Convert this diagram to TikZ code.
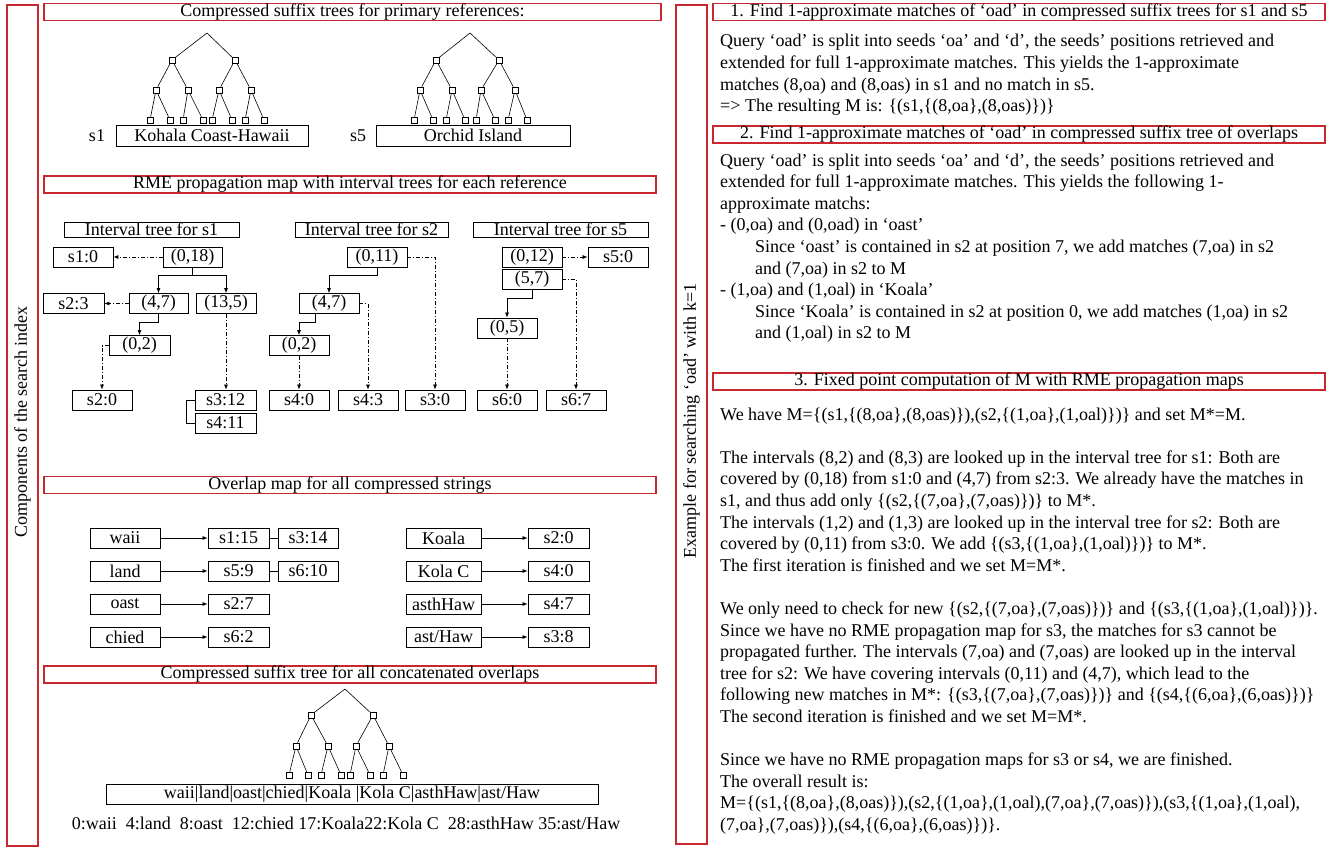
\documentclass[tikz,border=0pt]{standalone}
\usepackage{fontspec}
\setmainfont{Liberation Serif}
\usetikzlibrary{arrows.meta}
\definecolor{hdrred}{RGB}{200,40,45}
\begin{document}
\begin{tikzpicture}[x=1pt,y=-1pt,
  every node/.style={font=\fontsize{18pt}{21.6pt}\selectfont, inner sep=0pt},
  hdr/.style={draw=hdrred, line width=1.2pt},
  bx/.style={draw=black, line width=0.8pt, minimum height=20pt},
  tn/.style={draw=black, line width=0.6pt, minimum width=6pt, minimum height=6pt, fill=white},
  arr/.style={-{Latex[length=5pt,width=4pt]}},
  dd/.style={dash pattern=on 4pt off 2pt on 1pt off 2pt},
  ln/.style={anchor=base west},
  tedge/.style={line width=0.6pt},
  conn/.style={line width=0.7pt}
]
\fill[white] (0,0) rectangle (1337,848);
\useasboundingbox (0,0) rectangle (1337,848);

% ---------- side strips ----------
\draw[hdr] (7,5) rectangle (38,846);
\node[rotate=90] (llab) at (22.5,422) {Components of the search index};
\draw[hdr] (676,5) rectangle (707,844);
\node[rotate=90] (rlab) at (691.5,421) {Example for searching ‘oad’ with k=1};

% ---------- left headers ----------
\node[hdr, minimum width=617pt, minimum height=16pt] (h1) at (352.5,12) {Compressed suffix trees for primary references:};
\node[hdr, minimum width=612pt, minimum height=17pt] (h2) at (350,184.5) {RME propagation map with interval trees for each reference};
\node[hdr, minimum width=612pt, minimum height=16pt] (h3) at (350,485) {Overlap map for all compressed strings};
\node[hdr, minimum width=612pt, minimum height=17pt] (h4) at (350,674.5) {Compressed suffix tree for all concatenated overlaps};

% ---------- suffix tree s1 ----------
\coordinate (t1r) at (207,33);
\node[tn] (t1a) at (172,60) {};
\node[tn] (t1b) at (235,60) {};
\node[tn] (t1aa) at (156,90) {};
\node[tn] (t1ab) at (188,90) {};
\node[tn] (t1ba) at (219,90) {};
\node[tn] (t1bb) at (251,90) {};
\node[tn] (t1aaa) at (150,120) {};
\node[tn] (t1aab) at (170,120) {};
\node[tn] (t1aba) at (183,120) {};
\node[tn] (t1abb) at (203,120) {};
\node[tn] (t1baa) at (212,120) {};
\node[tn] (t1bab) at (232,120) {};
\node[tn] (t1bba) at (245,120) {};
\node[tn] (t1bbb) at (264,120) {};
\foreach \p/\c in {r/a,r/b,a/aa,a/ab,b/ba,b/bb,aa/aaa,aa/aab,ab/aba,ab/abb,ba/baa,ba/bab,bb/bba,bb/bbb}
  \draw[tedge] (t1\p) -- (t1\c);
\node (s1lab) at (97,136) {s1};
\node[bx, minimum width=192pt, minimum height=21pt] (koh) at (212,135.5) {Kohala Coast-Hawaii};

% ---------- suffix tree s5 ----------
\coordinate (t2r) at (470,33);
\node[tn] (t2a) at (436,60) {};
\node[tn] (t2b) at (499,60) {};
\node[tn] (t2aa) at (420,90) {};
\node[tn] (t2ab) at (452,90) {};
\node[tn] (t2ba) at (481,90) {};
\node[tn] (t2bb) at (515,90) {};
\node[tn] (t2aaa) at (414,120) {};
\node[tn] (t2aab) at (433,120) {};
\node[tn] (t2aba) at (446,120) {};
\node[tn] (t2abb) at (465,120) {};
\node[tn] (t2baa) at (476,120) {};
\node[tn] (t2bab) at (495,120) {};
\node[tn] (t2bba) at (508,120) {};
\node[tn] (t2bbb) at (527,120) {};
\foreach \p/\c in {r/a,r/b,a/aa,a/ab,b/ba,b/bb,aa/aaa,aa/aab,ab/aba,ab/abb,ba/baa,ba/bab,bb/bba,bb/bbb}
  \draw[tedge] (t2\p) -- (t2\c);
\node (s5lab) at (358,136) {s5};
\node[bx, minimum width=194pt, minimum height=21pt] (orc) at (473,135.5) {Orchid Island};

% ---------- interval trees ----------
\node[bx, minimum width=175pt, minimum height=15pt] (it1) at (151.5,229.5) {Interval tree for s1};
\node[bx, minimum width=153pt, minimum height=15pt] (it2) at (371.5,229.5) {Interval tree for s2};
\node[bx, minimum width=175pt, minimum height=15pt] (it5) at (560.5,229.5) {Interval tree for s5};

% s1
\node[bx, minimum width=60pt] (a10) at (83,257) {s1:0};
\node[bx, minimum width=59pt] (a018) at (192.5,257) {(0,18)};
\node[bx, minimum width=61pt] (a23) at (73.5,303.5) {s2:3};
\node[bx, minimum width=59pt] (a47) at (158.5,303.5) {(4,7)};
\node[bx, minimum width=60pt] (a135) at (226,303.5) {(13,5)};
\node[bx, minimum width=61pt] (a02) at (139.5,345.5) {(0,2)};
\node[bx, minimum width=60pt] (a20) at (102,400) {s2:0};
\node[bx, minimum width=61pt] (a312) at (225.5,400) {s3:12};
\node[bx, minimum width=61pt] (a411) at (225.5,423) {s4:11};
\draw[conn,dd,arr] (a018.west) -- (a10.east);
\draw[conn,arr] (a018.south) -- ++(0,8) -| (a47.north);
\draw[conn,arr] (a018.south) -- ++(0,8) -| (a135.north);
\draw[conn,dd,arr] (a47.west) -- (a23.east);
\draw[conn,arr] (a47.south) -- ++(0,8) -| (a02.north);
\draw[conn,dd,arr] (a02.west) -| (a20.north);
\draw[conn,dd,arr] (a135.south) -- (a135.south |- a312.north);
\draw[conn] (a312.west) -- ++(-8,0) |- (a411.west);

% s2
\node[bx, minimum width=60pt] (b011) at (377,257) {(0,11)};
\node[bx, minimum width=60pt] (b47) at (329,303.5) {(4,7)};
\node[bx, minimum width=60pt] (b02) at (299,345.5) {(0,2)};
\node[bx, minimum width=60pt] (b40) at (299,400) {s4:0};
\node[bx, minimum width=60pt] (b43) at (368,400) {s4:3};
\node[bx, minimum width=60pt] (b30) at (435,400) {s3:0};
\draw[conn,dd,arr] (b011.east) -| (b30.north);
\draw[conn,arr] (b011.south) -- ++(0,8) -| (b47.north);
\draw[conn,dd,arr] (b47.east) -| (b43.north);
\draw[conn,arr] ([xshift=-14pt]b47.south) -- ++(0,8) -| (b02.north);
\draw[conn,dd,arr] (b02.south) -- (b40.north);

% s5
\node[bx, minimum width=60pt] (c012) at (532,257) {(0,12)};
\node[bx, minimum width=60pt] (c50) at (618,257) {s5:0};
\node[bx, minimum width=60pt] (c57) at (532,279) {(5,7)};
\node[bx, minimum width=60pt] (c05) at (507,328) {(0,5)};
\node[bx, minimum width=60pt] (c60) at (507,400) {s6:0};
\node[bx, minimum width=60pt] (c67) at (576,400) {s6:7};
\draw[conn,dd,arr] (c012.east) -- (c50.west);
\draw[conn,dd,arr] (c57.east) -| (c67.north);
\draw[conn,arr] (c57.south) -- ++(0,9) -| (c05.north);
\draw[conn,dd,arr] (c05.south) -- (c60.north);

% ---------- overlap map ----------
\node[bx, minimum width=70pt] (o1) at (125,538) {waii};
\node[bx, minimum width=61pt] (o1a) at (238.5,538) {s1:15};
\node[bx, minimum width=60pt] (o1b) at (308,538) {s3:14};
\node[bx, minimum width=70pt] (o2) at (125,571) {land};
\node[bx, minimum width=61pt] (o2a) at (238.5,571) {s5:9};
\node[bx, minimum width=60pt] (o2b) at (308,571) {s6:10};
\node[bx, minimum width=70pt] (o3) at (125,604) {oast};
\node[bx, minimum width=61pt] (o3a) at (238.5,604) {s2:7};
\node[bx, minimum width=70pt] (o4) at (125,637) {chied};
\node[bx, minimum width=61pt] (o4a) at (238.5,637) {s6:2};
\node[bx, minimum width=75pt] (p1) at (443.5,538) {Koala};
\node[bx, minimum width=61pt] (p1a) at (558.5,538) {s2:0};
\node[bx, minimum width=75pt] (p2) at (443.5,571) {Kola C};
\node[bx, minimum width=61pt] (p2a) at (558.5,571) {s4:0};
\node[bx, minimum width=75pt] (p3) at (443.5,604) {asthHaw};
\node[bx, minimum width=61pt] (p3a) at (558.5,604) {s4:7};
\node[bx, minimum width=75pt] (p4) at (443.5,637) {ast/Haw};
\node[bx, minimum width=61pt] (p4a) at (558.5,637) {s3:8};
\foreach \k in {o1,o2,o3,o4,p1,p2,p3,p4}
  \draw[conn,arr] (\k.east) -- (\k a.west);
\draw[conn] (o1a.east) -- (o1b.west);
\draw[conn] (o2a.east) -- (o2b.west);

% ---------- suffix tree of overlaps ----------
\coordinate (t3r) at (345,689);
\node[tn] (t3a) at (311,715) {};
\node[tn] (t3b) at (373,715) {};
\node[tn] (t3aa) at (296,746) {};
\node[tn] (t3ab) at (328,746) {};
\node[tn] (t3ba) at (356,746) {};
\node[tn] (t3bb) at (389,746) {};
\node[tn] (t3aaa) at (289,775) {};
\node[tn] (t3aab) at (308,775) {};
\node[tn] (t3aba) at (321,775) {};
\node[tn] (t3abb) at (341,775) {};
\node[tn] (t3baa) at (350,775) {};
\node[tn] (t3bab) at (370,775) {};
\node[tn] (t3bba) at (383,775) {};
\node[tn] (t3bbb) at (403,775) {};
\foreach \p/\c in {r/a,r/b,a/aa,a/ab,b/ba,b/bb,aa/aaa,aa/aab,ab/aba,ab/abb,ba/baa,ba/bab,bb/bba,bb/bbb}
  \draw[tedge] (t3\p) -- (t3\c);
\node[bx, minimum width=492pt] (cat) at (352,794) {waii|land|oast|chied|Koala |Kola C|asthHaw|ast/Haw};
\node (idx) at (346,823) {0:waii\ \ 4:land\ \ 8:oast\ \ 12:chied 17:Koala22:Kola C\ \ 28:asthHaw 35:ast/Haw};

% ---------- right headers ----------
\node[hdr, minimum width=612pt, minimum height=16pt] (r1) at (1019,12) {1. Find 1-approximate matches of ‘oad’ in compressed suffix trees for s1 and s5};
\node[hdr, minimum width=612pt, minimum height=17pt] (r2) at (1019,134.5) {2. Find 1-approximate matches of ‘oad’ in compressed suffix tree of overlaps};
\node[hdr, minimum width=612pt, minimum height=17pt] (r3) at (1019,381.5) {3. Fixed point computation of M with RME propagation maps};

% ---------- right text ----------
\node[ln] (x1) at (720,47) {Query ‘oad’ is split into seeds ‘oa’ and ‘d’, the seeds’ positions retrieved and};
\node[ln] (x2) at (720,68.6) {extended for full 1-approximate matches. This yields the 1-approximate};
\node[ln] (x3) at (720,90.2) {matches (8,oa) and (8,oas) in s1 and no match in s5.};
\node[ln] (x4) at (720,111.8) {=> The resulting M is: \{(s1,\{(8,oa\},(8,oas)\})\}};

\node[ln] (y1) at (720,166) {Query ‘oad’ is split into seeds ‘oa’ and ‘d’, the seeds’ positions retrieved and};
\node[ln] (y2) at (720,187.6) {extended for full 1-approximate matches. This yields the following 1-};
\node[ln] (y3) at (720,209.2) {approximate matchs:};
\node[ln] (y4) at (720,230.8) {- (0,oa) and (0,oad) in ‘oast’};
\node[ln] (y5) at (755,252.4) {Since ‘oast’ is contained in s2 at position 7, we add matches (7,oa) in s2};
\node[ln] (y6) at (755,274) {and (7,oa) in s2 to M};
\node[ln] (y7) at (720,295.6) {- (1,oa) and (1,oal) in ‘Koala’};
\node[ln] (y8) at (755,317.2) {Since ‘Koala’ is contained in s2 at position 0, we add matches (1,oa) in s2};
\node[ln] (y9) at (755,338.8) {and (1,oal) in s2 to M};

\node[ln] (z1) at (720,420) {We have M=\{(s1,\{(8,oa\},(8,oas)\}),(s2,\{(1,oa\},(1,oal)\})\} and set M*=M.};
\node[ln] (z2) at (720,463.2) {The intervals (8,2) and (8,3) are looked up in the interval tree for s1: Both are};
\node[ln] (z3) at (720,484.8) {covered by (0,18) from s1:0 and (4,7) from s2:3. We already have the matches in};
\node[ln] (z4) at (720,506.4) {s1, and thus add only \{(s2,\{(7,oa\},(7,oas)\})\} to M*.};
\node[ln] (z5) at (720,528) {The intervals (1,2) and (1,3) are looked up in the interval tree for s2: Both are};
\node[ln] (z6) at (720,549.6) {covered by (0,11) from s3:0. We add \{(s3,\{(1,oa\},(1,oal)\})\} to M*.};
\node[ln] (z7) at (720,571.2) {The first iteration is finished and we set M=M*.};
\node[ln] (z8) at (720,614.4) {We only need to check for new \{(s2,\{(7,oa\},(7,oas)\})\} and \{(s3,\{(1,oa\},(1,oal)\})\}.};
\node[ln] (z9) at (720,636) {Since we have no RME propagation map for s3, the matches for s3 cannot be};
\node[ln] (z10) at (720,657.6) {propagated further. The intervals (7,oa) and (7,oas) are looked up in the interval};
\node[ln] (z11) at (720,679.2) {tree for s2: We have covering intervals (0,11) and (4,7), which lead to the};
\node[ln] (z12) at (720,700.8) {following new matches in M*: \{(s3,\{(7,oa\},(7,oas)\})\} and \{(s4,\{(6,oa\},(6,oas)\})\}};
\node[ln] (z13) at (720,722.4) {The second iteration is finished and we set M=M*.};
\node[ln] (z14) at (720,765.6) {Since we have no RME propagation maps for s3 or s4, we are finished.};
\node[ln] (z15) at (720,787.2) {The overall result is:};
\node[ln] (z16) at (720,808.8) {M=\{(s1,\{(8,oa\},(8,oas)\}),(s2,\{(1,oa\},(1,oal),(7,oa\},(7,oas)\}),(s3,\{(1,oa\},(1,oal),};
\node[ln] (z17) at (720,830.4) {(7,oa\},(7,oas)\}),(s4,\{(6,oa\},(6,oas)\})\}.};
\end{tikzpicture}
\end{document}
